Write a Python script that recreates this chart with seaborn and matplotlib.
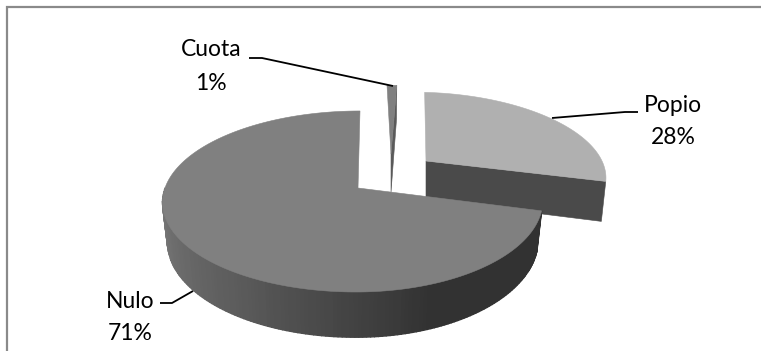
import numpy as np
import seaborn as sns
import matplotlib.pyplot as plt
from matplotlib.patches import Polygon

categories = ['Popio', 'Nulo', 'Cuota']
shares = [28, 71, 1]
share_labels = ['28%', '71%', '1%']

W, H = 761, 351
sns.set_theme(style='white')
plt.rcParams['font.family'] = ['Lato', 'DejaVu Sans']

fig = plt.figure(figsize=(W / 100, H / 100), dpi=100)
ax = fig.add_axes([0, 0, 1, 1])

# pie only used to get the angles, drawn again below in perspective
wedges, _ = ax.pie(shares, startangle=86.4, counterclock=False)
angles = {c: (w.theta1, w.theta2) for c, w in zip(categories, wedges)}
for w in wedges:
    w.remove()

ax.set_aspect('auto')
ax.set_xlim(0, W)
ax.set_ylim(H, 0)
ax.axis('off')

top_colors = {'Popio': '#b0b0b0', 'Nulo': '#808080', 'Cuota': '#808080'}
wall_colors = {'Popio': '#4a4a4a', 'Cuota': '#5a5a5a'}
rim_colors = sns.blend_palette(['#7d7d7d', '#5c5c5c', '#323232', '#323232'], 120)

P = 0.149
DEPTH = 38.5
# apex x, apex y, radius left, radius right, radius y, skew
shape = {
    'Popio': (426, 161, 176, 176, 79, -11),
    'Nulo': (358, 188, 193, 183, 88.5, 2),
    'Cuota': (391, 154, 179, 179, 79, -4),
}


def project(cat, a, r=1.0, down=0.0):
    cx, cy, bl, br, ay, skew = shape[cat]
    u = r * np.cos(np.radians(a))
    v = r * np.sin(np.radians(a))
    k = 1 + P * v
    b = np.where(u < 0, bl, br)
    x = cx + b * u * (1 - 0.025 * down) / k + skew * v
    y = cy - ay * v / k + down * DEPTH / k
    return np.column_stack([x, y])


def add_poly(pts, color, z, lw=0.4):
    ax.add_patch(Polygon(pts, closed=True, fc=color, ec=color, lw=lw, zorder=z))


def draw_slice(cat, z):
    t1, t2 = angles[cat]
    arc = np.linspace(t1, t2, 240)
    apex = project(cat, 0.0, 0.0)
    rim = project(cat, arc)
    # cut face on the viewer side
    if cat in wall_colors:
        edge = project(cat, arc[0])
        apex_low = project(cat, 0.0, 0.0, 1.0)
        edge_low = project(cat, arc[0], 1.0, 1.0)
        add_poly(np.vstack([apex, edge, edge_low, apex_low]), wall_colors[cat], z)
    else:
        # outer wall with the shading running left to right
        low = arc[(np.sin(np.radians(arc)) < 0.02)]
        low = low[np.argsort(project(cat, low)[:, 0])]
        for i in range(len(low) - 1):
            seg = low[i:i + 2]
            upper = project(cat, seg)
            lower = project(cat, seg, 1.0, 1.0)
            c = rim_colors[int(i / (len(low) - 1) * (len(rim_colors) - 1))]
            add_poly(np.vstack([upper, lower[::-1]]), c, z + i * 0.001, lw=1.0)
    add_poly(np.vstack([apex, rim]), top_colors[cat], z + 0.5)


draw_slice('Popio', 2)
draw_slice('Cuota', 2)
draw_slice('Nulo', 3)

# leader lines
leaders = [
    ([249, 262, 393], [58, 58, 86]),
    ([638, 625, 552], [112, 112, 118]),
    ([160, 172, 193], [303, 303, 291]),
]
for xs, ys in leaders:
    ax.plot(xs, ys, color='black', lw=1.3, zorder=5, solid_capstyle='butt')

# labels
label_pos = {'Cuota': (211, 50, 83), 'Popio': (673, 105, 138), 'Nulo': (130, 302, 334)}
for cat, pct in zip(categories, share_labels):
    x, y1, y2 = label_pos[cat]
    ax.text(x, y1, cat, ha='center', va='center', fontsize=16.5, color='black', zorder=6)
    ax.text(x, y2, pct, ha='center', va='center', fontsize=16.5, color='black', zorder=6)

# chart border, only top and left are in the picture
ax.plot([7, 7, W], [H, 7, 7], color='#8a8a8a', lw=1.6, zorder=1, solid_joinstyle='miter')

fig.savefig('out.png', dpi=100)
